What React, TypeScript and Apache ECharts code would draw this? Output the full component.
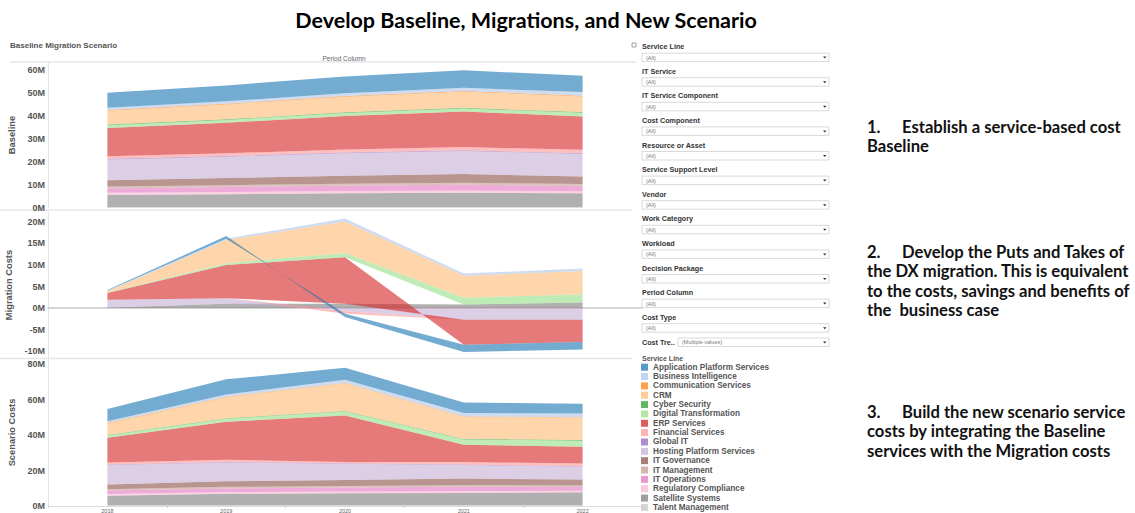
import React, { useEffect, useRef } from "react";
import * as echarts from "echarts";

// ---------- DATA ----------
const years = ["2018", "2019", "2020", "2021", "2022"];

const serviceLines = [
  "Application Platform Services",
  "Business Intelligence",
  "Communication Services",
  "CRM",
  "Cyber Security",
  "Digital Transformation",
  "ERP Services",
  "Financial Services",
  "Global IT",
  "Hosting Platform Services",
  "IT Governance",
  "IT Management",
  "IT Operations",
  "Regulatory Compliance",
  "Satellite Systems",
  "Talent Management",
];

const palette = [
  "#1f77b4", "#aec7e8", "#ff7f0e", "#ffbb78", "#2ca02c", "#98df8a", "#d62728", "#ff9896",
  "#9467bd", "#c5b0d5", "#8c564b", "#c49c94", "#e377c2", "#f7b6d2", "#7f7f7f", "#c7c7c7",
];

// values in millions, rows in service-line (legend) order
const baseline: number[][] = [
  [6.5, 6.9, 7.3, 7.6, 7.1],
  [1.0, 1.1, 1.2, 1.4, 1.6],
  [0.3, 0.3, 0.3, 0.3, 0.3],
  [6.0, 6.4, 6.8, 7.0, 6.8],
  [0.3, 0.3, 0.3, 0.3, 0.3],
  [1.2, 1.2, 1.3, 1.3, 1.6],
  [12.3, 13.3, 14.6, 15.5, 14.5],
  [1.1, 1.2, 1.3, 1.4, 1.5],
  [0.3, 0.3, 0.3, 0.3, 0.3],
  [9.0, 9.3, 9.8, 10.0, 9.8],
  [2.8, 3.1, 3.4, 3.8, 3.3],
  [0.8, 0.8, 0.9, 0.9, 0.9],
  [1.9, 2.1, 2.3, 2.5, 2.2],
  [1.0, 1.0, 1.0, 1.0, 0.9],
  [5.2, 5.6, 6.0, 6.2, 6.0],
  [0.4, 0.4, 0.4, 0.4, 0.4],
];

const migration: number[][] = [
  [0.2, 0.6, -0.8, -1.7, -1.7],
  [0.1, 0.3, 0.7, 0.5, 0.6],
  [0, 0, 0, 0, 0],
  [0.3, 5.4, 7.3, 5.1, 5.4],
  [0, 0, 0, 0, 0],
  [0.1, 0.4, 1.0, 1.6, 1.9],
  [1.6, 7.7, 10.8, -5.8, -5.2],
  [0, 0, -0.6, 0, 0],
  [0, 0, 0, 0, 0],
  [1.8, 1.3, -0.6, -2.6, -2.6],
  [0, 0, 0, 0, 0],
  [0, 0, 0, 0, 0],
  [0, 0, -0.1, -0.1, -0.1],
  [0, 0, 0, 0, 0],
  [0.1, 1.0, 1.0, 0.8, 1.3],
  [0, 0, 0, 0, 0],
];

const scenario: number[][] = [
  [6.8, 8.5, 6.8, 5.9, 5.6],
  [1.1, 1.3, 1.9, 1.9, 2.1],
  [0.3, 0.3, 0.3, 0.3, 0.3],
  [6.4, 11.8, 15.5, 12.4, 12.6],
  [0.3, 0.3, 0.3, 0.3, 0.3],
  [1.3, 1.7, 2.2, 3.0, 3.5],
  [14.0, 21.5, 26.2, 9.8, 9.4],
  [1.1, 1.2, 0.8, 1.4, 1.5],
  [0.3, 0.3, 0.3, 0.3, 0.3],
  [10.9, 10.6, 9.1, 7.6, 7.3],
  [2.8, 3.2, 3.4, 3.8, 3.3],
  [0.7, 0.9, 0.9, 0.9, 0.9],
  [1.9, 2.0, 2.2, 2.4, 2.1],
  [1.0, 1.0, 1.0, 1.0, 0.9],
  [5.4, 6.5, 6.8, 7.0, 7.3],
  [0.4, 0.4, 0.4, 0.4, 0.4],
];

const baselineTicks = [0, 10, 20, 30, 40, 50, 60];
const migrationTicks = [-10, -5, 0, 5, 10, 15, 20];
const scenarioTicks = [0, 20, 40, 60, 80];

const filterNames = [
  "Service Line", "IT Service", "IT Service Component", "Cost Component", "Resource or Asset",
  "Service Support Level", "Vendor", "Work Category", "Workload", "Decision Package",
  "Period Column", "Cost Type",
];

const note1 = ["Establish a service-based cost", "Baseline"];
const note2 = ["Develop the Puts and Takes of", "the DX migration. This is equivalent", "to the costs, savings and benefits of", "the  business case"];
const note3 = ["Build the new scenario service", "costs by integrating the Baseline", "services with the Migration costs"];

// ---------- CHART ----------
const FONT = "'Liberation Sans', Arial, sans-serif";
const NOTE_FONT = "Lato, 'Open Sans', sans-serif";

function buildOption() {
  const grids = [
    { left: 48, right: 493, top: 62, height: 146 },
    { left: 48, right: 493, top: 212, height: 146 },
    { left: 48, right: 493, top: 359, height: 147 },
  ].map((g) => ({ ...g, outerBoundsMode: "none", containLabel: false }));

  const xAxes = [0, 1, 2].map((i) => ({
    type: "category",
    gridIndex: i,
    data: years,
    boundaryGap: true,
    axisLine: {
      show: i !== 0,
      onZero: true,
      lineStyle: { color: i === 1 ? "#c6c6c6" : "#dddddd", width: i === 1 ? 1.5 : 1 },
    },
    axisTick: { show: i === 2, length: 2, lineStyle: { color: "#cccccc" } },
    axisLabel: { show: i === 2, fontSize: 5.5, color: "#666", margin: 2, fontFamily: FONT },
    splitLine: { show: false },
  }));

  const yDefs = [
    { name: "Baseline", min: 0, max: 63.5, ticks: baselineTicks },
    { name: "Migration Costs", min: -11.6, max: 22.3, ticks: migrationTicks },
    { name: "Scenario Costs", min: 0, max: 83, ticks: scenarioTicks },
  ];
  const yAxes = yDefs.map((d, i) => ({
    type: "value",
    gridIndex: i,
    min: d.min,
    max: d.max,
    name: d.name,
    nameLocation: "middle",
    nameGap: 31,
    nameTextStyle: { fontSize: 9.3, fontWeight: "bold", color: "#555", fontFamily: FONT },
    axisLine: { show: true, lineStyle: { color: "#e4e4e4" } },
    axisTick: { show: false, customValues: d.ticks },
    splitLine: { show: false },
    axisLabel: {
      customValues: d.ticks,
      formatter: (v: number) => `${v}M`,
      fontSize: 9,
      fontWeight: "bold",
      color: "#555",
      margin: 3,
      fontFamily: FONT,
    },
  }));

  const tables = [baseline, migration, scenario];
  const series: any[] = [];
  tables.forEach((tbl, g) => {
    // stack from bottom (last legend item) to top (first legend item)
    for (let k = serviceLines.length - 1; k >= 0; k--) {
      series.push({
        type: "line",
        name: serviceLines[k],
        xAxisIndex: g,
        yAxisIndex: g,
        stack: "stack" + g,
        stackStrategy: "samesign",
        data: tbl[k],
        symbol: "none",
        showSymbol: false,
        lineStyle: { width: 0, opacity: 0 },
        itemStyle: { color: palette[k] },
        areaStyle: { color: palette[k], opacity: 0.62 },
        emphasis: { disabled: true },
        silent: true,
      });
    }
  });

  const graphic: any[] = [];
  // title
  graphic.push({
    type: "text", x: 526, y: 20,
    style: { text: "Develop Baseline, Migrations, and New Scenario", font: `bold 21.5px ${NOTE_FONT}`, fill: "#000", align: "center", verticalAlign: "middle" },
  });
  graphic.push({
    type: "text", x: 10, y: 45,
    style: { text: "Baseline Migration Scenario", font: `bold 8px ${FONT}`, fill: "#555", verticalAlign: "middle" },
  });
  graphic.push({
    type: "text", x: 344, y: 58,
    style: { text: "Period Column", font: `6.5px ${FONT}`, fill: "#666", align: "center", verticalAlign: "middle" },
  });
  // separators
  const sep = (x1: number, y: number, x2: number) =>
    graphic.push({ type: "line", shape: { x1, y1: y, x2, y2: y }, style: { stroke: "#e6e6e6", lineWidth: 1.5 }, silent: true });
  sep(10, 62, 636);
  sep(0, 210, 632);
  sep(0, 358.5, 632);

  // filter panel
  graphic.push({ type: "rect", shape: { x: 632, y: 43, width: 4, height: 4 }, style: { fill: "none", stroke: "#888", lineWidth: 0.8 } });
  const dropdown = (x: number, y: number, w: number, txt: string) => {
    graphic.push({ type: "rect", shape: { x, y, width: w, height: 8.5 }, style: { fill: "#fff", stroke: "#cfcfcf", lineWidth: 0.8 } });
    graphic.push({ type: "text", x: x + 4, y: y + 4.4, style: { text: txt, font: `5.5px ${FONT}`, fill: "#777", verticalAlign: "middle" } });
    graphic.push({ type: "polygon", shape: { points: [[x + w - 6, y + 3.5], [x + w - 2.5, y + 3.5], [x + w - 4.25, y + 5.5]] }, style: { fill: "#333" } });
  };
  filterNames.forEach((nm, i) => {
    const y = 46.7 + 24.6 * i;
    graphic.push({ type: "text", x: 642, y, style: { text: nm, font: `bold 7.2px ${FONT}`, fill: "#333", verticalAlign: "middle" } });
    dropdown(642, y + 6.4, 187, "(All)");
  });
  graphic.push({ type: "text", x: 642, y: 342.2, style: { text: "Cost Tre..", font: `bold 7.2px ${FONT}`, fill: "#333", verticalAlign: "middle" } });
  dropdown(678, 338, 151, "(Multiple values)");
  graphic.push({ type: "text", x: 642, y: 358.3, style: { text: "Service Line", font: `bold 7px ${FONT}`, fill: "#555", verticalAlign: "middle" } });

  // notes: one multi-line rich text per paragraph
  const note = (lines: string[], num: string, yCenterFirst: number, step: number) => {
    const txt = `{n|${num}}{t|${lines[0]}}` + lines.slice(1).map((l) => `\n{t|${l}}`).join("");
    const base = { fontSize: 16.6, fontWeight: "bold", fontFamily: NOTE_FONT, fill: "#111", lineHeight: step };
    graphic.push({
      type: "text", x: 867, y: yCenterFirst - step / 2,
      style: {
        text: txt,
        ...base,
        verticalAlign: "top",
        rich: { n: { ...base, width: 35 }, t: { ...base } },
      },
    });
  };
  note(note1, "1.", 126.5, 19.2);
  note(note2, "2.", 252.3, 19.1);
  note(note3, "3.", 412.3, 19.2);

  return {
    animation: false,
    backgroundColor: "#ffffff",
    textStyle: { fontFamily: FONT },
    grid: grids,
    xAxis: xAxes,
    yAxis: yAxes,
    legend: {
      orient: "vertical",
      left: 641,
      top: 362.5,
      padding: 0,
      itemWidth: 7,
      itemHeight: 7,
      itemGap: 0,
      icon: "rect",
      selectedMode: false,
      textStyle: { fontSize: 8.2, fontWeight: "bold", color: "#555", lineHeight: 9.35, fontFamily: FONT },
      data: serviceLines.map((n, i) => ({ name: n, itemStyle: { color: palette[i], opacity: 0.75 } })),
    },
    series,
    graphic,
  };
}

export default function App() {
  const ref = useRef<HTMLDivElement>(null);
  useEffect(() => {
    if (!ref.current) return;
    const chart = echarts.init(ref.current, null, { renderer: "svg" });
    chart.setOption(buildOption() as any);
    return () => chart.dispose();
  }, []);
  return (
    <div
      ref={ref}
      style={{ position: "fixed", left: 0, top: 0, width: 1135, height: 513, background: "#fff" }}
    />
  );
}
